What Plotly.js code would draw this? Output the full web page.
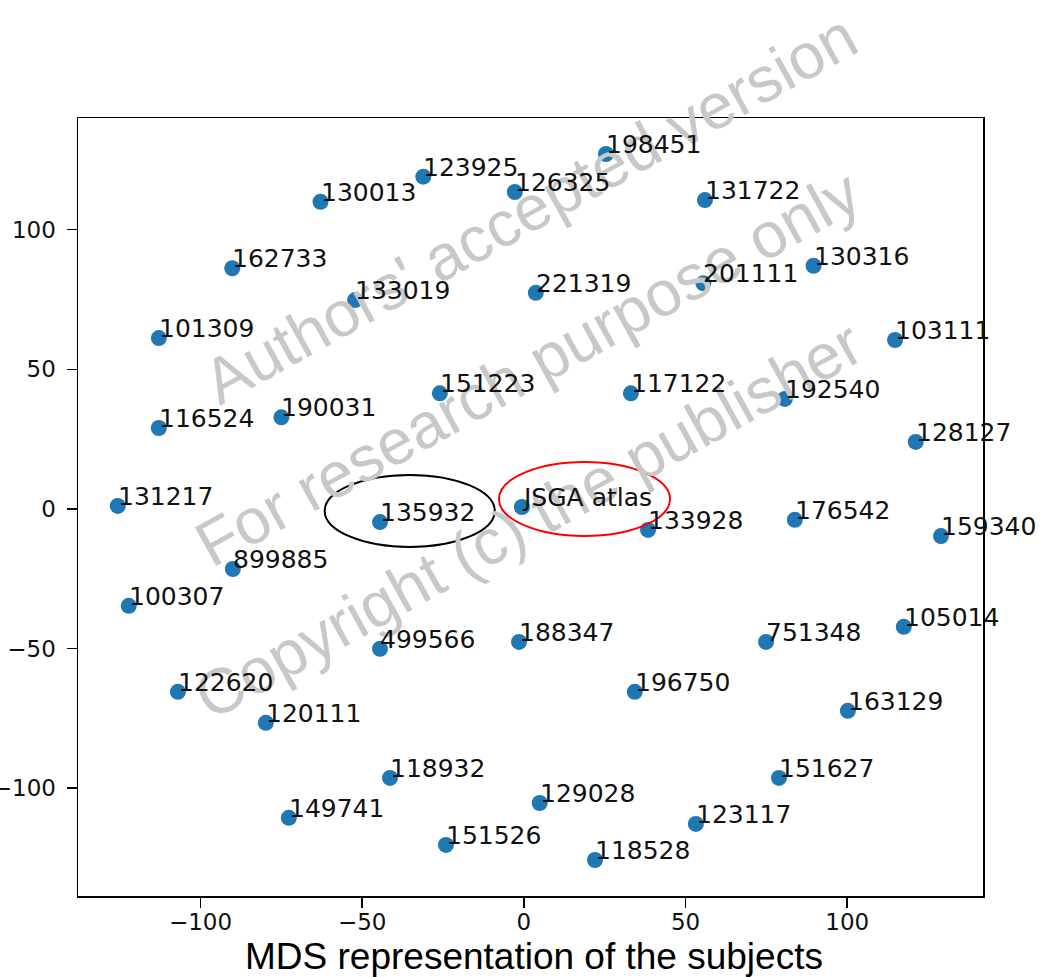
<!DOCTYPE html>
<html>
<head>
<meta charset="utf-8">
<script src="https://cdn.plot.ly/plotly-3.0.1.min.js"></script>
<style>html,body{margin:0;padding:0;background:#fff;}#chart{width:1042px;height:977px;}</style>
</head>
<body>
<div id="chart"></div>
<script>
const subjects = ["198451","123925","126325","130013","131722","162733","130316","201111","221319","133019",
  "101309","103111","151223","117122","192540","116524","190031","128127","131217","JSGA atlas",
  "135932","133928","176542","159340","899885","100307","105014","499566","188347","751348",
  "122620","196750","163129","120111","118932","151627","129028","149741","123117","151526","118528"];
const xVals = [25.4,-31.1,-2.8,-62.9,56.0,-90.2,89.6,55.5,3.7,-52.2,
  -112.9,114.8,-26.0,33.1,80.7,-112.9,-75.0,121.2,-125.6,-0.6,
  -44.5,38.4,83.8,129.0,-90.0,-122.2,117.5,-44.5,-1.5,74.9,
  -107.0,34.3,100.2,-79.8,-41.4,78.9,4.9,-72.7,53.2,-24.1,22.0];
const yVals = [127.1,119.0,113.5,110.0,110.6,86.2,87.1,80.8,77.4,74.8,
  61.2,60.5,41.4,41.4,39.4,29.0,32.8,24.0,1.1,0.7,
  -4.7,-7.5,-3.9,-9.7,-21.5,-34.7,-42.2,-50.1,-47.6,-47.6,
  -65.5,-65.5,-72.3,-76.6,-96.3,-96.3,-105.3,-110.6,-112.8,-120.3,-125.7];
const tickVals = [-100,-50,0,50,100];
const watermarkLines = ["Authors' accepted version","For research purpose only","Copyright (c) the publisher"];
const watermarkPos = [[0.499,0.883],[0.497,0.679],[0.498,0.483]];
// highlight ellipses: [x0,x1,y0,y1,color]
const highlights = [[-61.6,-9.0,-13.6,12.2,"black"],[-7.7,45.2,-9.7,16.8,"red"]];
const captionText = "MDS representation of the subjects";

const trace = {
  x: xVals, y: yVals, type: "scatter", mode: "markers",
  marker: {color: "#1f77b4", size: 16},
  hoverinfo: "text", text: subjects, cliponaxis: false
};

const annotations = [];
watermarkLines.forEach((t, i) => {
  annotations.push({
    text: t, xref: "paper", yref: "paper", x: watermarkPos[i][0], y: watermarkPos[i][1],
    xanchor: "center", yanchor: "middle", showarrow: false, textangle: -29,
    font: {family: "Liberation Sans, Arial, sans-serif", size: 64, color: "#c8c8c8"}
  });
});
subjects.forEach((s, i) => {
  annotations.push({
    text: s, x: xVals[i], y: yVals[i], xref: "x", yref: "y",
    xanchor: "left", yanchor: "bottom", showarrow: false, xshift: -2, yshift: -7,
    font: {family: "DejaVu Sans, sans-serif", size: 25, color: "#111"}
  });
});
annotations.push({
  text: captionText, xref: "paper", yref: "paper", x: 0.504, y: 0,
  xanchor: "center", yanchor: "top", showarrow: false, yshift: -38,
  font: {family: "Liberation Sans, Arial, sans-serif", size: 37, color: "#000"}
});

const shapes = highlights.map(h => ({
  type: "circle", xref: "x", yref: "y", x0: h[0], x1: h[1], y0: h[2], y1: h[3],
  line: {color: h[4], width: 2}
}));

const axisCommon = {
  showgrid: false, zeroline: false, showline: true, mirror: true,
  linecolor: "#000", linewidth: 1.5, ticks: "outside", ticklen: 10, tickwidth: 1.5, tickcolor: "#000",
  tickvals: tickVals, tickfont: {family: "DejaVu Sans, sans-serif", size: 23, color: "#111"}
};

const layout = {
  width: 1042, height: 977,
  margin: {l: 78, r: 59, t: 118, b: 81},
  paper_bgcolor: "#fff", plot_bgcolor: "#fff",
  showlegend: false,
  xaxis: Object.assign({}, axisCommon, {range: [-137.9, 142.0], ticklabelstandoff: -5}),
  yaxis: Object.assign({}, axisCommon, {range: [-138.6, 140.0], ticklabelstandoff: 6}),
  annotations: annotations,
  shapes: shapes
};

Plotly.newPlot("chart", [trace], layout, {displayModeBar: false, staticPlot: true});
</script>
</body>
</html>
